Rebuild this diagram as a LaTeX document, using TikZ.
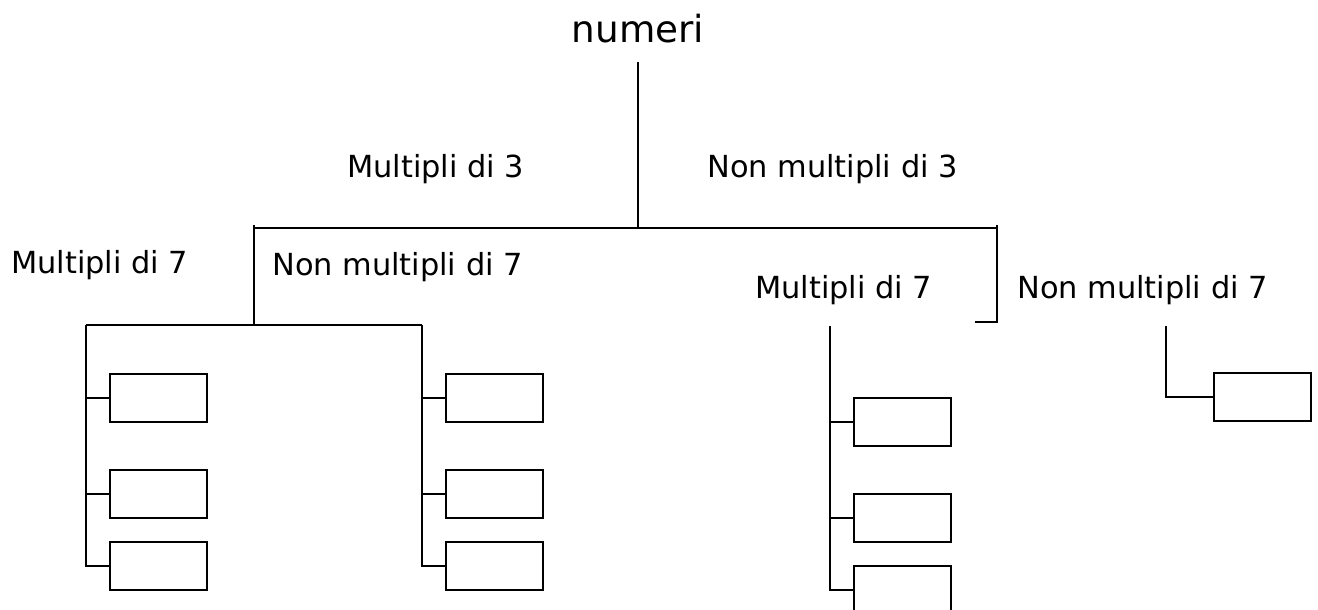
\documentclass[tikz,border=0pt]{standalone}
\usepackage{fontspec}
\setmainfont{DejaVu Sans}
\begin{document}
\begin{tikzpicture}[x=0.75pt,y=-0.75pt,
  lbl/.style={anchor=base west,inner sep=0pt,font=\fontsize{22.8pt}{26pt}\selectfont},
  ttl/.style={anchor=base,inner sep=0pt,font=\fontsize{28pt}{32pt}\selectfont},
  boxn/.style={draw,line width=2pt,minimum width=72.75pt,minimum height=36pt,inner sep=0pt},
  ln/.style={line width=2pt},
  thinln/.style={line width=1.3pt}]
\useasboundingbox (0,0) rectangle (1318,610);

% title and labels
\node[ttl] (numeri) at (638,43) {numeri};
\node[lbl] (m3) at (347,177) {Multipli di 3};
\node[lbl] (nm3) at (707,177) {Non multipli di 3};
\node[lbl] (m7a) at (11,273) {Multipli di 7};
\node[lbl] (nm7a) at (272,275) {Non multipli di 7};
\node[lbl] (m7b) at (755,298) {Multipli di 7};
\node[lbl] (nm7b) at (1017,298) {Non multipli di 7};

% boxes
\node[boxn] (a1) at (158.5,398) {};
\node[boxn] (a2) at (158.5,494) {};
\node[boxn] (a3) at (158.5,566) {};
\node[boxn] (b1) at (494.5,398) {};
\node[boxn] (b2) at (494.5,494) {};
\node[boxn] (b3) at (494.5,566) {};
\node[boxn] (c1) at (902.5,422) {};
\node[boxn] (c2) at (902.5,518) {};
\node[boxn] (c3) at (902.5,590) {};
\node[boxn] (d1) at (1262.5,397) {};

% coordinates
\coordinate (top) at (638,62);
\coordinate (j0) at (638,228);
\coordinate (jl) at (254,228);
\coordinate (jr) at (997,228);
\coordinate (jlb) at (254,325);
\coordinate (jrb) at (997,322);
\coordinate (jrbe) at (975,322);
\coordinate (la) at (86,325);
\coordinate (lb) at (422,325);
\coordinate (ct) at (830,326);
\coordinate (dt) at (1166,326);

% main tree
\draw[thinln] (top) -- (j0);
\draw[ln] (jl) -- (jr);
\draw[ln] (254,225) -- (jl) -- (jlb);
\draw[ln] (997,225) -- (jr) -- (jrb) -- (jrbe);

% left bracket
\draw[ln] (la) -- (lb);
\draw[ln] (la) -- (la |- a3.west) -- (a3.west);
\draw[ln] (la |- a1.west) -- (a1.west);
\draw[ln] (la |- a2.west) -- (a2.west);
\draw[ln] (lb) -- (lb |- b3.west) -- (b3.west);
\draw[ln] (lb |- b1.west) -- (b1.west);
\draw[ln] (lb |- b2.west) -- (b2.west);

% middle group
\draw[ln] (ct) -- (ct |- c3.west) -- (c3.west);
\draw[ln] (ct |- c1.west) -- (c1.west);
\draw[ln] (ct |- c2.west) -- (c2.west);

% right group
\draw[ln] (dt) -- (dt |- d1.west) -- (d1.west);
\end{tikzpicture}
\end{document}
